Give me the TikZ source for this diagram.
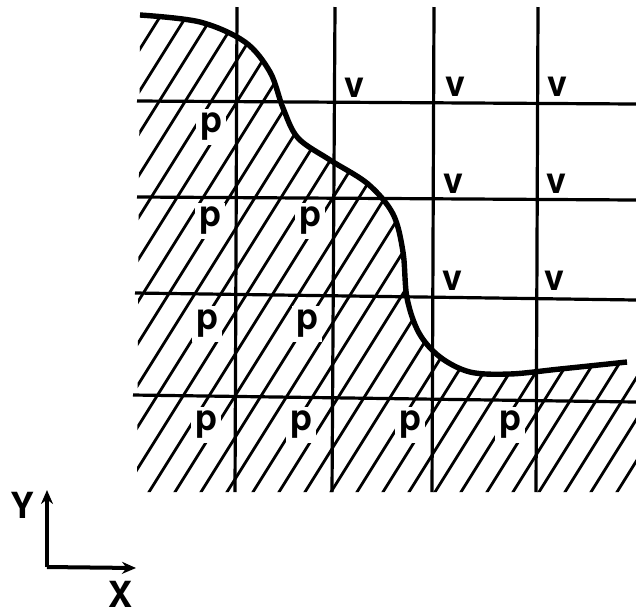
\documentclass[tikz,border=0pt]{standalone}
\usepackage{fontspec}
\setsansfont{TeX Gyre Heros}
\usetikzlibrary{arrows.meta}

\begin{document}
\begin{tikzpicture}[x=0.5pt,y=-0.5pt]
\tikzset{
  gridline/.style={line width=1.6pt},
  hatchline/.style={line width=1.4pt},
  boundary/.style={line width=2.7pt},
  plabel/.style={font=\fontsize{18}{18}\sffamily\bfseries, fill=white, inner sep=2pt},
  vlabel/.style={font=\fontsize{18}{18}\sffamily\bfseries, inner sep=0pt},
  axislabel/.style={font=\fontsize{18}{18}\sffamily\bfseries, inner sep=0pt},
  axis/.style={line width=2pt, -{Stealth[length=7pt,width=6pt]}}
}
\useasboundingbox (0,0) rectangle (636,612);

% Hatched region below the boundary
\begin{scope}
\clip plot[smooth,tension=0.55] coordinates {(140,15) (200,22) (245,42) (270,72) (283,108) (298,138) (330,160) (368,184) (393,214) (403,252) (407,298) (419,333) (440,357) (470,372) (510,374) (560,369) (627,362)}
  -- (640,362) -- (640,492) -- (137,492) -- cycle;
\foreach \s in {-220,-194,...,660}
  \draw[hatchline] (\s,500) -- ++(320,-512);
\end{scope}

% Cells marked p
\node[plabel] (p11) at (211,127) {p};
\node[plabel] (p21) at (210,221) {p};
\node[plabel] (p22) at (310,221) {p};
\node[plabel] (p31) at (207,324) {p};
\node[plabel] (p32) at (307,324) {p};
\node[plabel] (p41) at (206,425) {p};
\node[plabel] (p42) at (301,425) {p};
\node[plabel] (p43) at (410,425) {p};
\node[plabel] (p44) at (510,425) {p};

% Cells marked v
\node[vlabel] (v02) at (355,88) {v};
\node[vlabel] (v03) at (455,87) {v};
\node[vlabel] (v04) at (557,87) {v};
\node[vlabel] (v13) at (454,184) {v};
\node[vlabel] (v14) at (556,184) {v};
\node[vlabel] (v23) at (452,281) {v};
\node[vlabel] (v24) at (554,281) {v};

% Grid
\draw[gridline] (137,101) -- (636,104);
\draw[gridline] (137,197) -- (636,200);
\draw[gridline] (135,293) -- (636,300);
\draw[gridline] (133,395) -- (636,402);
\draw[gridline] (237,7) -- (235,492);
\draw[gridline] (335,7) -- (332,492);
\draw[gridline] (434,7) -- (432,492);
\draw[gridline] (538,7) -- (536,492);

% Boundary curve
\draw[boundary] plot[smooth,tension=0.55] coordinates {(140,15) (200,22) (245,42) (270,72) (283,108) (298,138) (330,160) (368,184) (393,214) (403,252) (407,298) (419,333) (440,357) (470,372) (510,374) (560,369) (627,362)};

% Axes
\coordinate (o) at (47,567);
\coordinate (ytip) at (47,490);
\coordinate (xtip) at (136,568);
\draw[axis] (o) -- (ytip);
\draw[axis] (o) -- (xtip);
\node[axislabel] (ylab) at (23,505) {Y};
\node[axislabel] (xlab) at (121,594) {X};

\end{tikzpicture}
\end{document}
